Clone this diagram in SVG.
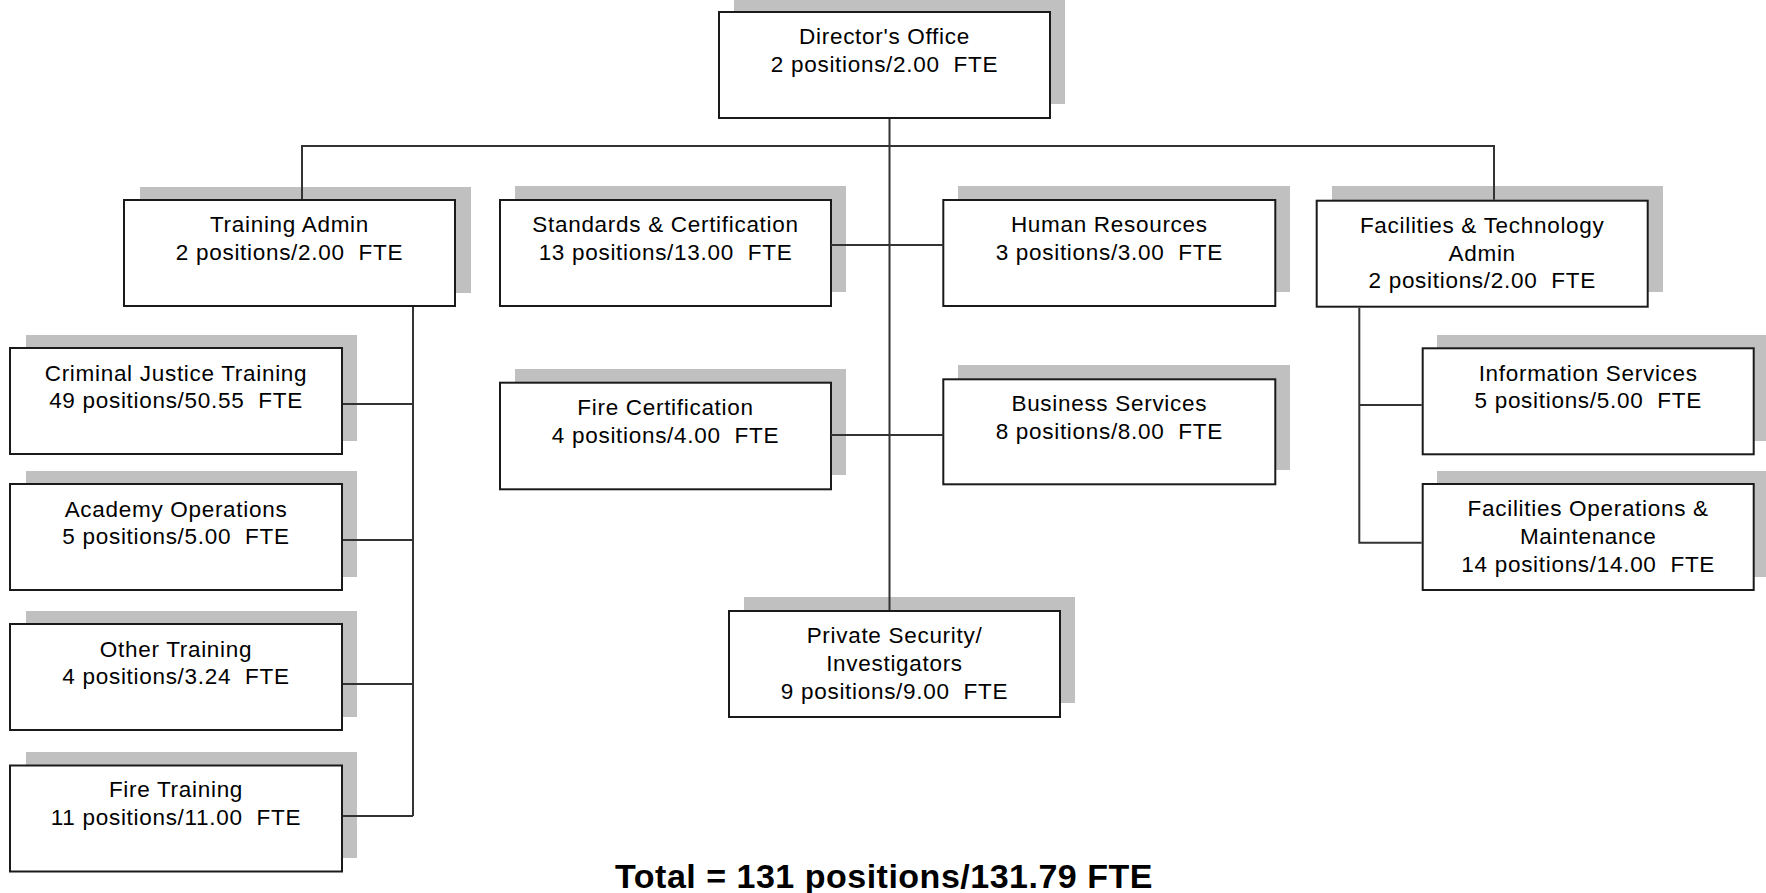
<svg xmlns="http://www.w3.org/2000/svg" width="1766" height="893" viewBox="0 0 1766 893">
<style>
.sh{fill:#c0c0c0;stroke:none}
.bx{fill:#fff;stroke:#1a1a1a;stroke-width:2}
.t{font-family:"Liberation Sans",Arial,sans-serif;font-size:22.5px;letter-spacing:0.7px;fill:#000;text-anchor:middle;white-space:pre}
.tot{font-family:"Liberation Sans",Arial,sans-serif;font-size:34px;font-weight:bold;letter-spacing:0.5px;fill:#000;text-anchor:middle}
.ln{fill:none;stroke:#333;stroke-width:2}
</style>
<rect width="1766" height="893" fill="#fff"/>
<g id="director">
<rect class="sh" x="734" y="-2" width="331" height="106"/>
<rect class="bx" x="719" y="12" width="331" height="106"/>
<text class="t" x="884.5" y="44">Director's Office</text>
<text class="t" x="884.5" y="72">2 positions/2.00  FTE</text>
</g>
<g id="training-admin">
<rect class="sh" x="140" y="187" width="331" height="106"/>
<rect class="bx" x="124" y="200" width="331" height="106"/>
<text class="t" x="289.5" y="232">Training Admin</text>
<text class="t" x="289.5" y="260">2 positions/2.00  FTE</text>
</g>
<g id="standards">
<rect class="sh" x="515" y="186" width="331" height="106"/>
<rect class="bx" x="500" y="200" width="331" height="106"/>
<text class="t" x="665.5" y="232">Standards &amp; Certification</text>
<text class="t" x="665.5" y="260">13 positions/13.00  FTE</text>
</g>
<g id="human-resources">
<rect class="sh" x="958" y="186" width="332" height="106"/>
<rect class="bx" x="943.3" y="200" width="332" height="106"/>
<text class="t" x="1109.3" y="232">Human Resources</text>
<text class="t" x="1109.3" y="260">3 positions/3.00  FTE</text>
</g>
<g id="facilities-tech">
<rect class="sh" x="1332" y="186" width="331" height="106"/>
<rect class="bx" x="1316.7" y="200.7" width="331" height="106"/>
<text class="t" x="1482.2" y="233">Facilities &amp; Technology</text>
<text class="t" x="1482.2" y="260.5">Admin</text>
<text class="t" x="1482.2" y="288">2 positions/2.00  FTE</text>
</g>
<g id="criminal-justice">
<rect class="sh" x="26" y="335" width="331" height="106"/>
<rect class="bx" x="10" y="348" width="332" height="106"/>
<text class="t" x="176" y="381">Criminal Justice Training</text>
<text class="t" x="176" y="408">49 positions/50.55  FTE</text>
</g>
<g id="academy-ops">
<rect class="sh" x="26" y="471" width="331" height="106"/>
<rect class="bx" x="10" y="484" width="332" height="106"/>
<text class="t" x="176" y="517">Academy Operations</text>
<text class="t" x="176" y="544">5 positions/5.00  FTE</text>
</g>
<g id="other-training">
<rect class="sh" x="26" y="611" width="331" height="106"/>
<rect class="bx" x="10" y="624" width="332" height="106"/>
<text class="t" x="176" y="657">Other Training</text>
<text class="t" x="176" y="684">4 positions/3.24  FTE</text>
</g>
<g id="fire-training">
<rect class="sh" x="26" y="752" width="331" height="106"/>
<rect class="bx" x="10" y="765.5" width="332" height="106"/>
<text class="t" x="176" y="797">Fire Training</text>
<text class="t" x="176" y="825">11 positions/11.00  FTE</text>
</g>
<g id="fire-cert">
<rect class="sh" x="515" y="369" width="331" height="106"/>
<rect class="bx" x="500" y="382.7" width="331" height="106.6"/>
<text class="t" x="665.5" y="414.5">Fire Certification</text>
<text class="t" x="665.5" y="442.5">4 positions/4.00  FTE</text>
</g>
<g id="business">
<rect class="sh" x="958" y="365" width="332" height="105"/>
<rect class="bx" x="943.3" y="379.3" width="332" height="105"/>
<text class="t" x="1109.3" y="411">Business Services</text>
<text class="t" x="1109.3" y="439">8 positions/8.00  FTE</text>
</g>
<g id="private-security">
<rect class="sh" x="744" y="597" width="331" height="106"/>
<rect class="bx" x="729" y="611" width="331" height="106"/>
<text class="t" x="894.5" y="642.5">Private Security/</text>
<text class="t" x="894.5" y="670.5">Investigators</text>
<text class="t" x="894.5" y="698.5">9 positions/9.00  FTE</text>
</g>
<g id="info-services">
<rect class="sh" x="1437" y="335" width="331" height="106"/>
<rect class="bx" x="1422.7" y="348.3" width="331" height="106"/>
<text class="t" x="1588.2" y="381">Information Services</text>
<text class="t" x="1588.2" y="408">5 positions/5.00  FTE</text>
</g>
<g id="facilities-ops">
<rect class="sh" x="1437" y="471" width="331" height="106"/>
<rect class="bx" x="1422.7" y="484" width="331" height="106"/>
<text class="t" x="1588.2" y="515.5">Facilities Operations &amp;</text>
<text class="t" x="1588.2" y="543.5">Maintenance</text>
<text class="t" x="1588.2" y="571.5">14 positions/14.00  FTE</text>
</g>
<g id="connectors">
<path class="ln" d="M889.5 119 V610"/>
<path class="ln" d="M302 199 V146 H1494 V199.7"/>
<path class="ln" d="M831 245 H943.3"/>
<path class="ln" d="M831 435 H943.3"/>
<path class="ln" d="M413 307 V816"/>
<path class="ln" d="M343 404 H413 M343 540 H413 M343 684 H413 M343 816 H413"/>
<path class="ln" d="M1359.3 307.7 V542.7 H1421.7 M1359.3 405 H1421.7"/>
</g>
<g id="total">
<text class="tot" x="884" y="888">Total = 131 positions/131.79 FTE</text>
</g>
</svg>
